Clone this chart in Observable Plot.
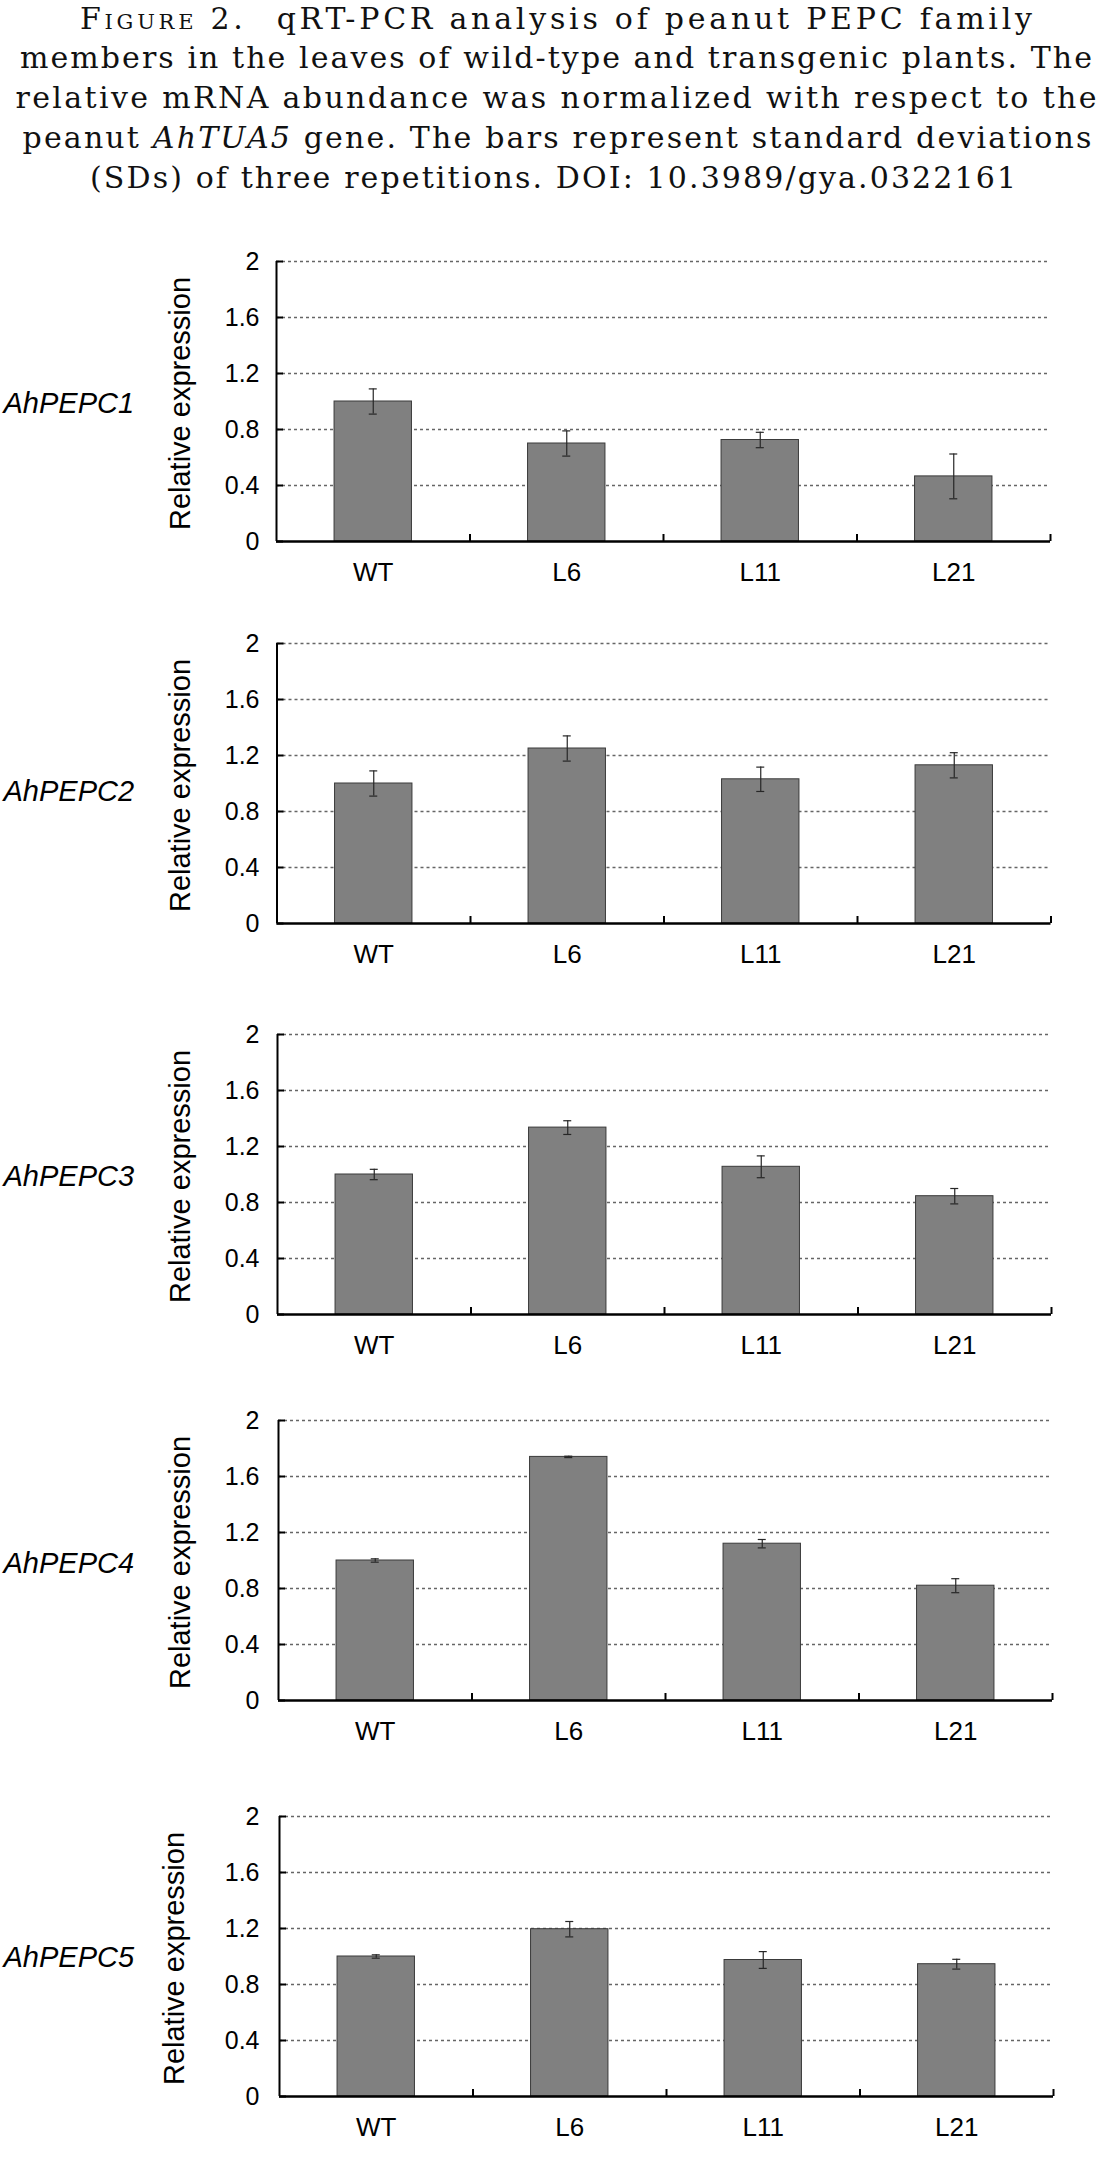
<!DOCTYPE html>
<html>
<head>
<meta charset="utf-8">
<script src="https://cdn.jsdelivr.net/npm/d3@7"></script>
<script src="https://cdn.jsdelivr.net/npm/@observablehq/plot@0.6"></script>
<style>
  html, body { margin: 0; padding: 0; background: #fff; }
  #page { position: relative; width: 1112px; height: 2169px; overflow: hidden; background: #fff; }
  .panel { position: absolute; left: 0; }
  #title text { fill: #111; }
</style>
</head>
<body>
<div id="page">
  <svg id="title" width="1112" height="205" style="position:absolute;left:0;top:0" font-family="'DejaVu Serif','Liberation Serif',serif" font-size="30">
    <text x="556" y="29" text-anchor="middle" textLength="952" lengthAdjust="spacing"><tspan style="font-variant:small-caps">Figure 2.</tspan><tspan dx="30">qRT-PCR analysis of peanut PEPC family</tspan></text>
    <text x="556" y="68" text-anchor="middle" textLength="1072" lengthAdjust="spacing">members in the leaves of wild-type and transgenic plants. The</text>
    <text x="556" y="108" text-anchor="middle" textLength="1081" lengthAdjust="spacing">relative mRNA abundance was normalized with respect to the</text>
    <text x="557" y="148" text-anchor="middle" textLength="1069" lengthAdjust="spacing">peanut <tspan font-style="italic">AhTUA5</tspan> gene. The bars represent standard deviations</text>
    <text x="553" y="188" text-anchor="middle" textLength="926" lengthAdjust="spacing">(SDs) of three repetitions. DOI: 10.3989/gya.0322161</text>
  </svg>
</div>
<script>
// ---- data ----
const categories = ["WT", "L6", "L11", "L21"];
const genes = ["AhPEPC1", "AhPEPC2", "AhPEPC3", "AhPEPC4", "AhPEPC5"];
const yTicks = [0, 0.4, 0.8, 1.2, 1.6, 2];
const yLabel = "Relative expression";

const pepc1Mean = [1.00, 0.70, 0.725, 0.465];
const pepc1SD   = [0.09, 0.09, 0.055, 0.16];
const pepc2Mean = [1.00, 1.25, 1.03, 1.13];
const pepc2SD   = [0.09, 0.09, 0.087, 0.09];
const pepc3Mean = [1.00, 1.335, 1.055, 0.845];
const pepc3SD   = [0.037, 0.049, 0.078, 0.055];
const pepc4Mean = [1.00, 1.74, 1.12, 0.82];
const pepc4SD   = [0.012, 0.005, 0.03, 0.05];
const pepc5Mean = [1.00, 1.195, 0.975, 0.945];
const pepc5SD   = [0.012, 0.055, 0.06, 0.035];

const means = [pepc1Mean, pepc2Mean, pepc3Mean, pepc4Mean, pepc5Mean];
const sds = [pepc1SD, pepc2SD, pepc3SD, pepc4SD, pepc5SD];

// ---- layout (pixels) ----
const panelTop = [260.5, 642.5, 1033.5, 1420, 1815.5];
const axisLeft = [276, 276.5, 277, 278, 279];
const titleX = [180, 180, 180, 180, 174];
const geneDy = [2, 8.5, 2.5, 3, 1.5];
const plotH = 280, plotW = 774, MT = 20, MB = 60, W = 1112;

const page = document.getElementById("page");

genes.forEach((gene, i) => {
  const data = categories.map((c, j) => ({cat: c, v: means[i][j], sd: sds[i][j]}));
  const left = axisLeft[i];
  const step = plotW / categories.length;
  const bandwidth = step * 0.4;
  const capInset = (bandwidth - 8) / 2;
  const chart = Plot.plot({
    width: W,
    height: MT + plotH + MB,
    marginLeft: left,
    marginRight: W - left - plotW,
    marginTop: MT,
    marginBottom: MB,
    style: {fontFamily: "'Liberation Sans', Arial, Helvetica, sans-serif", background: "transparent", color: "#000", overflow: "visible"},
    x: {domain: categories, paddingInner: 0.6, paddingOuter: 0.3, round: false, axis: null},
    y: {domain: [0, 2], axis: null},
    marks: [
      Plot.ruleY(yTicks.slice(1), {y: d => d, stroke: "#666", strokeWidth: 1.5, strokeDasharray: "3,3"}),
      Plot.barY(data, {x: "cat", y: "v", fill: "#808080", stroke: "#3a3a3a", strokeWidth: 1}),
      Plot.ruleX(data, {x: "cat", y1: d => d.v - d.sd, y2: d => d.v + d.sd, stroke: "#262626", strokeWidth: 1.2}),
      Plot.tickY(data, {x: "cat", y: d => d.v + d.sd, insetLeft: capInset, insetRight: capInset, stroke: "#262626", strokeWidth: 1.2}),
      Plot.tickY(data, {x: "cat", y: d => d.v - d.sd, insetLeft: capInset, insetRight: capInset, stroke: "#262626", strokeWidth: 1.2}),
      Plot.ruleY([0], {y: d => d, stroke: "#000", strokeWidth: 2.5}),
      Plot.ruleX([categories[0]], {x: d => d, y1: 0, y2: 2, dx: -step / 2, stroke: "#000", strokeWidth: 2}),
      Plot.ruleX(categories, {x: d => d, y1: 0, y2: 0.05, dx: step / 2, stroke: "#000", strokeWidth: 2}),
      Plot.tickY(yTicks, {y: d => d, insetRight: plotW - 7, stroke: "#000", strokeWidth: 2}),
      Plot.axisY(yTicks, {tickSize: 0, tickPadding: left - 259, fontSize: 25, tickFormat: d => String(d), label: null}),
      Plot.axisX(categories, {tickSize: 0, tickPadding: 21.5, fontSize: 26, label: null}),
      Plot.text([yLabel], {frameAnchor: "left", text: d => d, rotate: -90, textAnchor: "middle", dx: titleX[i] - left, dy: 2, fontSize: 29}),
      Plot.text([gene], {frameAnchor: "left", text: d => d, textAnchor: "start", dx: 3 - left, dy: geneDy[i], fontSize: 29, fontStyle: "italic"})
    ]
  });
  const wrap = document.createElement("div");
  wrap.className = "panel";
  wrap.style.top = (panelTop[i] - MT) + "px";
  wrap.appendChild(chart);
  page.appendChild(wrap);
});
</script>
</body>
</html>
